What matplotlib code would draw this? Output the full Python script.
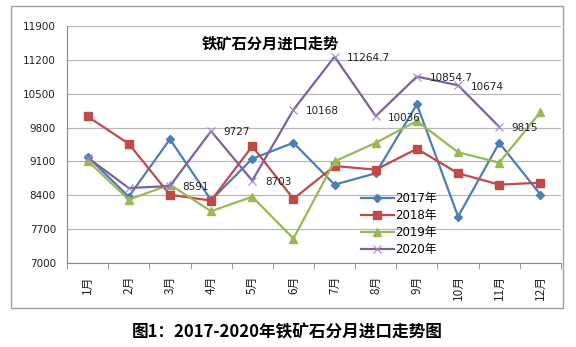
import matplotlib
matplotlib.use("Agg")
import matplotlib.pyplot as plt
from matplotlib.patches import Rectangle
from matplotlib.ticker import FixedLocator

plt.rcParams['font.family'] = ['DejaVu Sans', 'Noto Sans CJK SC']

# 数据（万吨）
months = ['1月', '2月', '3月', '4月', '5月', '6月', '7月', '8月', '9月', '10月', '11月', '12月']
y2017 = [9200, 8370, 9560, 8300, 9155, 9485, 8620, 8855, 10280, 7960, 9485, 8415]
y2018 = [10030, 9465, 8410, 8290, 9415, 8325, 9005, 8930, 9360, 8855, 8620, 8660]
y2019 = [9115, 8310, 8620, 8070, 8370, 7505, 9100, 9485, 9935, 9290, 9075, 10120]
y2020 = [9180, 8550, 8591, 9727, 8703, 10168, 11264.7, 10036, 10854.7, 10674, 9815]
labels2020 = ['', '', '8591', '9727', '8703', '10168', '11264.7', '10036', '10854.7', '10674', '9815']

yticks = [7000, 7700, 8400, 9100, 9800, 10500, 11200, 11900]

fig = plt.figure(figsize=(5.76, 3.47), dpi=100)
fig.patch.set_facecolor('white')
ax = fig.add_axes([67/576, 1-263/347, 494/576, 237/347])

x = list(range(len(months)))
ax.plot(x, y2017, '-D', color='#4A7EBB', lw=1.6, ms=4.5, label='2017年', zorder=3)
ax.plot(x, y2018, '-s', color='#BE4B48', lw=1.6, ms=6, label='2018年', zorder=3)
ax.plot(x, y2019, '-^', color='#98B954', lw=1.6, ms=6, label='2019年', zorder=3)
ax.plot(x[:len(y2020)], y2020, '-x', color='#7D60A0', lw=1.6, ms=6, mew=0.8,
        mec='#9E8CC2', label='2020年', zorder=3)

for i, t in enumerate(labels2020):
    if t:
        ax.annotate(t, (i, y2020[i]), xytext=(9, -1), textcoords='offset points',
                    ha='left', va='center', fontsize=7.5, color='#222222', zorder=4)

ax.set_xlim(-0.5, 11.5)
ax.set_ylim(7000, 11900)
ax.set_yticks(yticks)
ax.yaxis.grid(True, color='#B8B8B8', lw=0.9)
ax.set_axisbelow(True)
ax.tick_params(axis='y', length=0, pad=8, labelsize=7.5, labelcolor='#222222')

ax.set_xticks(x)
ax.set_xticklabels(months, rotation=90, va='top', ha='center', fontsize=8.5,
                   family=['Noto Sans CJK SC'], color='#222222')
ax.xaxis.set_minor_locator(FixedLocator([i - 0.5 for i in range(13)]))
ax.tick_params(axis='x', which='major', length=0, pad=9)
ax.tick_params(axis='x', which='minor', length=4, direction='out', color='#888888')

for s in ['top', 'right']:
    ax.spines[s].set_visible(False)
ax.spines['left'].set_color('#888888')
ax.spines['bottom'].set_color('#888888')

ax.legend(loc='upper left', bbox_to_anchor=(355/576, 1-186/347),
          bbox_transform=fig.transFigure, frameon=False, fontsize=8.5,
          handlelength=2.8, handletextpad=0.1, labelspacing=0.35, borderpad=0)

fig.text(270/576, 1-43/347, '铁矿石分月进口走势', ha='center', va='center',
         fontsize=11, fontweight='bold', family=['Noto Sans CJK SC'])
fig.text(287/576, 1-332/347, '图1：2017-2020年铁矿石分月进口走势图', ha='center',
         va='center', fontsize=12, fontweight='bold', family=['Noto Sans CJK SC'])

fig.add_artist(Rectangle((11/576, 1-308/347), 552/576, 302/347,
                         transform=fig.transFigure, fill=False, ec='#A0A0A0', lw=1))

fig.savefig('out.png', dpi=100)
